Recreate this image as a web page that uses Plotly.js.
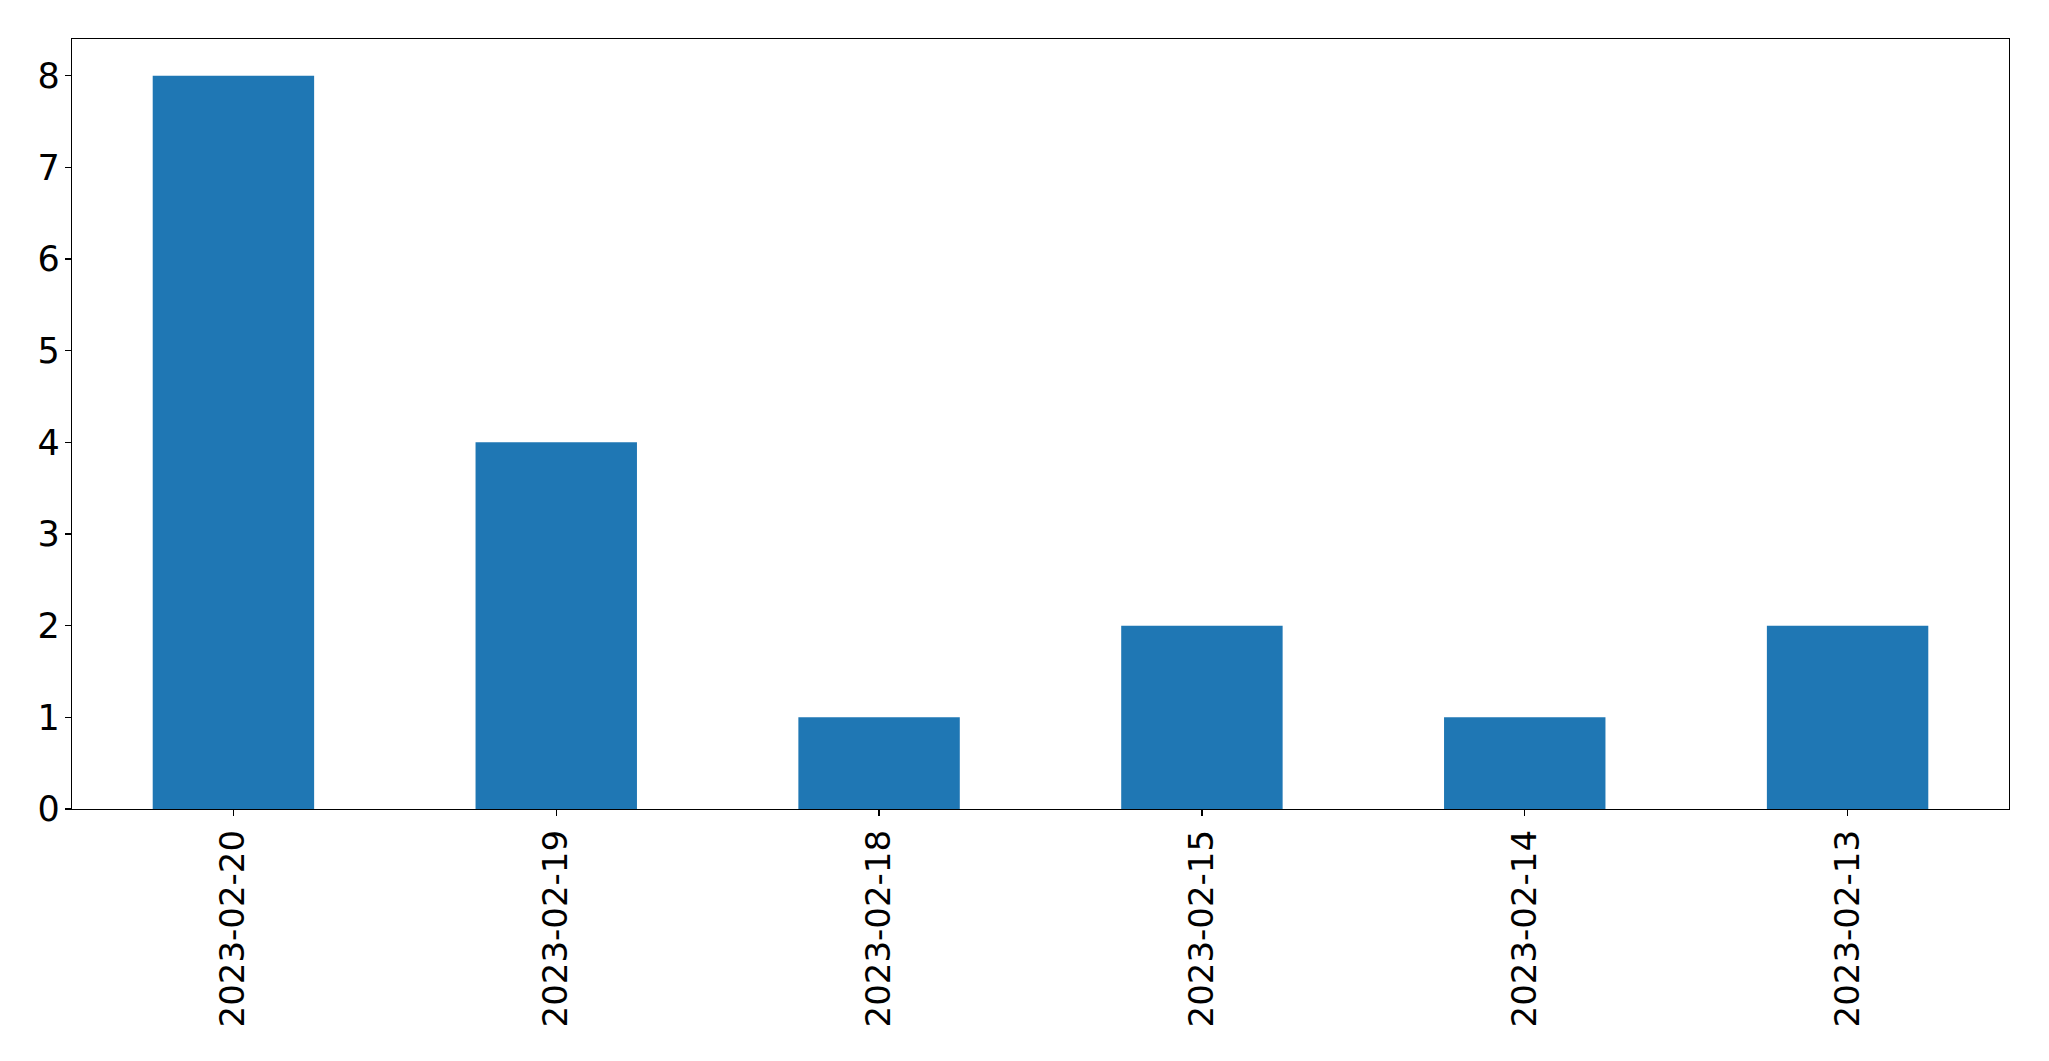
<!DOCTYPE html>
<html>
<head>
<meta charset="utf-8">
<script src="https://cdn.plot.ly/plotly-3.0.1.min.js"></script>
<style>
html, body { margin: 0; padding: 0; background: #ffffff; }
#chart { width: 2049px; height: 1061px; }
</style>
</head>
<body>
<div id="chart"></div>
<script>
const dates = ["2023-02-20", "2023-02-19", "2023-02-18", "2023-02-15", "2023-02-14", "2023-02-13"];
const counts = [8, 4, 1, 2, 1, 2];
const yTicks = [0, 1, 2, 3, 4, 5, 6, 7, 8];

const trace = {
  type: "bar",
  x: dates,
  y: counts,
  width: 0.5,
  marker: { color: "#1f77b4", line: { width: 0 } },
  hoverinfo: "x+y"
};

const layout = {
  autosize: false,
  width: 2049,
  height: 1061,
  margin: { l: 72, r: 40, t: 39, b: 252, pad: 0 },
  paper_bgcolor: "#ffffff",
  plot_bgcolor: "#ffffff",
  font: { family: "DejaVu Sans", size: 34, color: "#000000" },
  showlegend: false,
  bargap: 0.5,
  xaxis: {
    type: "category",
    range: [-0.5, 5.5],
    tickangle: -90,
    ticks: "outside",
    ticklen: 6,
    tickwidth: 1.3,
    tickcolor: "#000000",
    showline: true,
    linecolor: "#000000",
    linewidth: 1.3,
    mirror: true,
    showgrid: false,
    zeroline: false,
    tickfont: { family: "DejaVu Sans", size: 34, color: "#000000" }
  },
  yaxis: {
    range: [0, 8.4],
    tickmode: "array",
    tickvals: yTicks,
    ticktext: yTicks.map(String),
    ticks: "outside",
    ticklen: 6,
    tickwidth: 1.3,
    tickcolor: "#000000",
    ticklabelstandoff: -2,
    showline: true,
    linecolor: "#000000",
    linewidth: 1.3,
    mirror: true,
    showgrid: false,
    zeroline: false,
    tickfont: { family: "DejaVu Sans", size: 35, color: "#000000" }
  }
};

Plotly.newPlot("chart", [trace], layout, { displayModeBar: false, staticPlot: true });
</script>
</body>
</html>
